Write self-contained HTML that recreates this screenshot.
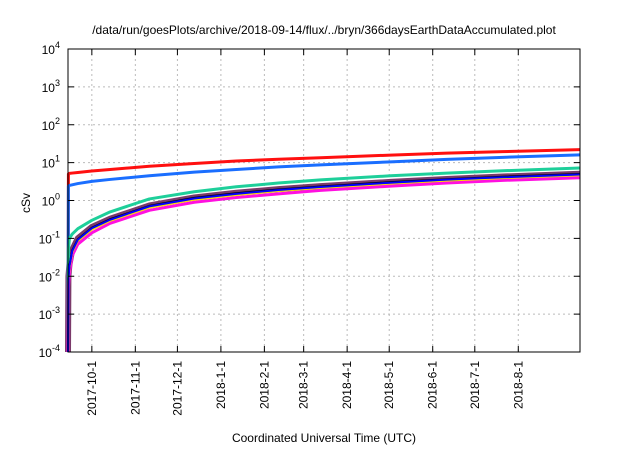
<!DOCTYPE html>
<html><head><meta charset="utf-8"><style>
body{margin:0;background:#fff}
svg{font-family:"Liberation Sans",sans-serif}
</style></head><body>
<svg id="chart" width="640" height="448" viewBox="0 0 640 448" xmlns="http://www.w3.org/2000/svg">
<text x="324" y="34" text-anchor="middle" font-size="12">/data/run/goesPlots/archive/2018-09-14/flux/../bryn/366daysEarthDataAccumulated.plot</text>
<text transform="translate(30,203) rotate(-90)" text-anchor="middle" font-size="12">cSv</text>
<text x="324" y="442" text-anchor="middle" font-size="12">Coordinated Universal Time (UTC)</text>
<g id="grid"></g><g id="series"></g><g id="axes"></g>
</svg>
<script>
const days = [0,0.3,1,3,7,17,30,58,90,120,150,180,230,270,310,365];
const redVals = [0.0001,5,5.2,5.3,5.5,6,6.6,8,9.5,11,12.3,13.5,15.8,17.8,19.5,22];
const blueVals = [0.0001,2.4,2.5,2.6,2.8,3.2,3.6,4.5,5.6,6.6,7.7,8.7,10.5,12.2,13.8,16];
const greenVals = [0.0001,0.05,0.1,0.13,0.18,0.3,0.5,1.1,1.7,2.3,2.9,3.5,4.5,5.3,6.1,7.2];
const purpleVals = [0.0001,0.01,0.02,0.05,0.1,0.2,0.33,0.74,1.2,1.6,2.0,2.4,3.1,3.7,4.3,5.1];
const blackVals = [0.0001,0.009,0.019,0.048,0.095,0.19,0.32,0.72,1.17,1.56,1.95,2.35,3.05,3.65,4.25,5.0];
const darkBlueVals = [0.0001,0.009,0.018,0.046,0.092,0.185,0.31,0.70,1.13,1.5,1.9,2.28,2.95,3.55,4.1,4.85];
const yellowVals = [0.0001,0.008,0.016,0.043,0.086,0.17,0.29,0.65,1.05,1.4,1.78,2.15,2.78,3.35,3.9,4.6];
const magentaVals = [0.0001,0.005,0.012,0.035,0.07,0.14,0.25,0.55,0.9,1.2,1.5,1.85,2.4,2.9,3.4,4.0];
const yTickExps = [-4,-3,-2,-1,0,1,2,3,4];
const xTickLabels = ["2017-10-1","2017-11-1","2017-12-1","2018-1-1","2018-2-1","2018-3-1","2018-4-1","2018-5-1","2018-6-1","2018-7-1","2018-8-1"];
const xTickDays = [17,48,78,109,140,168,199,229,260,290,321];

const L=68,R=580,T=49,B=352,NS="http://www.w3.org/2000/svg";
const xS=d=>L+d*(R-L)/365;
const yS=v=>B-(Math.log10(v)+4)*(B-T)/8;
function mk(tag,attrs,parent){const e=document.createElementNS(NS,tag);for(const k in attrs)e.setAttribute(k,attrs[k]);parent.appendChild(e);return e;}
const grid=document.getElementById('grid'),axes=document.getElementById('axes'),ser=document.getElementById('series');
yTickExps.forEach(e=>{const y=yS(Math.pow(10,e));
 if(e>-4&&e<4){const g=mk('line',{x1:L,x2:R,y1:y,y2:y,stroke:'#bbb','stroke-dasharray':'2,3','stroke-width':1},grid);
 
 }
 mk('line',{x1:L,x2:L+6,y1:y,y2:y,stroke:'#000'},axes);
 mk('line',{x1:R,x2:R-6,y1:y,y2:y,stroke:'#000'},axes);
 const t=mk('text',{x:L-8,y:y+5,'text-anchor':'end','font-size':12},axes);
 
 
 t.textContent='10';const s=mk('tspan',{dy:-6,'font-size':9},t);s.textContent=String(e);
});
xTickDays.forEach((d,i)=>{const x=xS(d);
 const g=mk('line',{x1:x,x2:x,y1:T,y2:B,stroke:'#bbb','stroke-dasharray':'2,3'},grid);
 
 
 mk('line',{x1:x,x2:x,y1:B,y2:B-6,stroke:'#000'},axes);
 mk('line',{x1:x,x2:x,y1:T,y2:T+6,stroke:'#000'},axes);
 const t=mk('text',{transform:`translate(${x+4},${B+9}) rotate(-90)`,'text-anchor':'end','font-size':12},axes);
 
 
 t.textContent=xTickLabels[i];
});
const fr=mk('rect',{x:L,y:T,width:R-L,height:B-T,fill:'none',stroke:'#000','stroke-width':1},axes);


const series=[[purpleVals,'#7a3a6a',6,'series-purple'],[redVals,'#ff1010',3,'series-red'],[blueVals,'#1a6eff',3,'series-blue'],[greenVals,'#1ecf9a',3,'series-green'],[magentaVals,'#ff10e0',3,'series-magenta'],[yellowVals,'#ffe000',2,'series-yellow'],[blackVals,'#000',2,'series-black'],[darkBlueVals,'#0000ff',2,'series-dark-blue']];
series.forEach(([vals,c,w,n])=>{
 const p=mk('polyline',{points:days.map((d,i)=>xS(d)+','+yS(vals[i])).join(' '),fill:'none',stroke:c,'stroke-width':w,'stroke-linejoin':'round'},ser);
 
 
});
</script>
</body></html>
